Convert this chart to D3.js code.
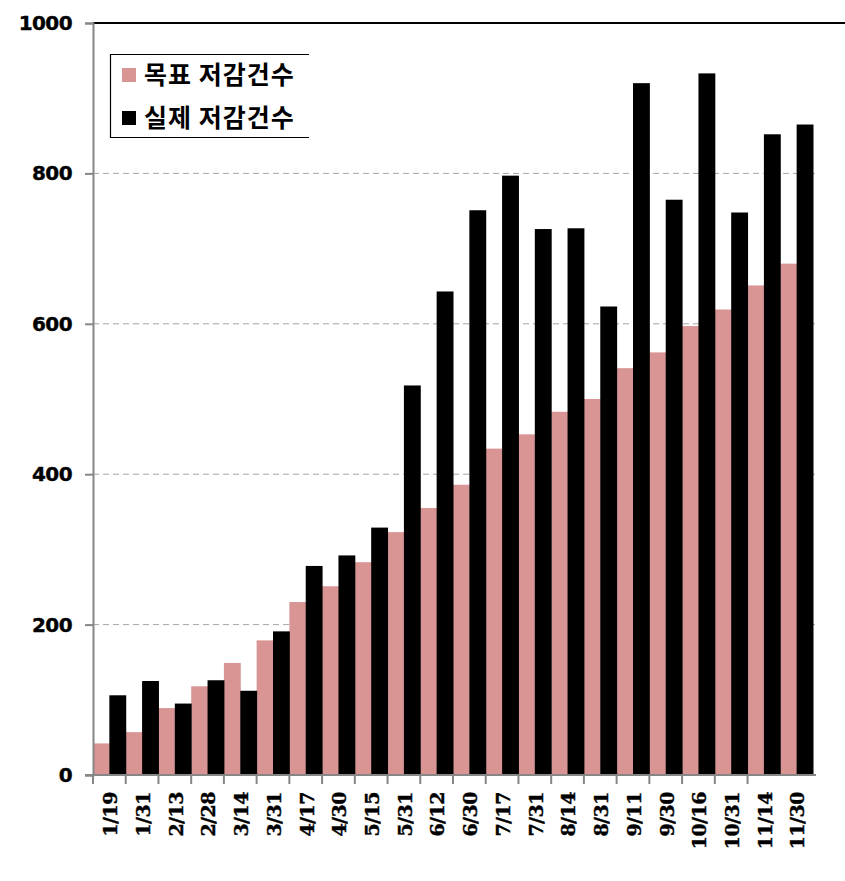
<!DOCTYPE html>
<html>
<head>
<meta charset="utf-8">
<script src="https://cdn.jsdelivr.net/npm/d3@7/dist/d3.min.js"></script>
<style>
  html, body { margin: 0; padding: 0; background: #fff; }
  svg { display: block; }
</style>
</head>
<body>
<script>
const categories = ["1/19","1/31","2/13","2/28","3/14","3/31","4/17","4/30","5/15","5/31","6/12","6/30","7/17","7/31","8/14","8/31","9/11","9/30","10/16","10/31","11/14","11/30"];
const targetValues = [42, 57, 89, 118, 149, 179, 230, 251, 283, 323, 355, 386, 434, 453, 483, 500, 541, 562, 597, 619, 651, 680];
const actualValues = [106, 125, 95, 126, 112, 191, 278, 292, 329, 518, 643, 751, 797, 726, 727, 623, 920, 765, 933, 748, 852, 865];
const seriesNames = ["목표 저감건수", "실제 저감건수"];
const seriesColors = ["#D99594", "#000000"];
const yTicks = [0, 200, 400, 600, 800, 1000];

const W = 845, H = 881;
const mLeft = 93, mRight = 813, mTop = 23, mBottom = 775;

const svg = d3.select("body").append("svg").attr("width", W).attr("height", H);

const x = d3.scaleBand().domain(categories).range([mLeft, mRight]).padding(0);
const y = d3.scaleLinear().domain([0, 1000]).range([mBottom, mTop]);

// gridlines
svg.append("g").selectAll("line").data(yTicks.filter(d => d > 0 && d < 1000)).join("line")
  .attr("x1", mLeft).attr("x2", 815)
  .attr("y1", d => y(d)).attr("y2", d => y(d))
  .attr("stroke", "#A6A6A6").attr("stroke-width", 1).attr("stroke-dasharray", "6,4");

// bars
const half = x.bandwidth() / 2;
svg.append("g").selectAll("rect").data(categories).join("rect")
  .attr("x", d => x(d))
  .attr("width", half + 0.5)
  .attr("y", (d, i) => y(targetValues[i]))
  .attr("height", (d, i) => y(0) - y(targetValues[i]))
  .attr("fill", seriesColors[0]);
svg.append("g").selectAll("rect").data(categories).join("rect")
  .attr("x", d => x(d) + half)
  .attr("width", half + 0.5)
  .attr("y", (d, i) => y(actualValues[i]))
  .attr("height", (d, i) => y(0) - y(actualValues[i]))
  .attr("fill", seriesColors[1]);

// top border line
svg.append("line").attr("x1", mLeft).attr("x2", W).attr("y1", y(1000)).attr("y2", y(1000))
  .attr("stroke", "#000").attr("stroke-width", 2);

// y axis
const yAxis = d3.axisLeft(y).tickValues(yTicks).tickSize(8).tickFormat(d3.format("d"));
const yg = svg.append("g").attr("transform", `translate(${mLeft},0)`).call(yAxis);
yg.select(".domain").attr("stroke", "#868686").attr("stroke-width", 2);
yg.selectAll(".tick line").attr("stroke", "#868686").attr("stroke-width", 2);
yg.selectAll(".tick text")
  .attr("x", -21)
  .attr("font-family", "'DejaVu Sans', sans-serif")
  .attr("font-weight", "bold")
  .attr("font-size", 20)
  .attr("letter-spacing", -0.6)
  .attr("stroke", "#000").attr("stroke-width", 0.4)
  .attr("fill", "#000");

// x axis baseline
svg.append("line").attr("x1", mLeft - 8).attr("x2", 816).attr("y1", mBottom).attr("y2", mBottom)
  .attr("stroke", "#868686").attr("stroke-width", 2);
// x ticks at category boundaries
svg.append("g").selectAll("line").data(categories.slice(0, 21)).join("line")
  .attr("x1", d => x(d)).attr("x2", d => x(d))
  .attr("y1", mBottom).attr("y2", mBottom + 9)
  .attr("stroke", "#868686").attr("stroke-width", 2);
// x labels
svg.append("g").selectAll("text").data(categories).join("text")
  .attr("transform", d => `translate(${x(d) + x.bandwidth() / 2 + 1},792) rotate(-90)`)
  .attr("text-anchor", "end")
  .attr("dy", "0.36em")
  .attr("font-family", "'DejaVu Serif', serif")
  .attr("font-weight", "bold")
  .attr("font-size", 19)
  .attr("letter-spacing", -0.5)
  .attr("stroke", "#000").attr("stroke-width", 0.4)
  .attr("fill", "#000")
  .text(d => d);

// legend
const lg = svg.append("g");
lg.append("rect").attr("x", 110.5).attr("y", 54.5).attr("width", 198).attr("height", 83).attr("fill", "#fff");
lg.append("path").attr("d", "M309,54.5 H110.5 V137.5 H309")
  .attr("fill", "none").attr("stroke", "#000").attr("stroke-width", 1.2);
const rowsY = [75, 118];
seriesNames.forEach((name, i) => {
  lg.append("rect").attr("x", 122).attr("y", rowsY[i] - 7).attr("width", 14).attr("height", 14)
    .attr("fill", seriesColors[i]);
  lg.append("text").attr("x", 144).attr("y", rowsY[i]).attr("dy", "0.35em")
    .attr("font-family", "'Noto Sans CJK KR', sans-serif")
    .attr("font-weight", "bold")
    .attr("font-size", 25)
    .attr("letter-spacing", 1)
    .attr("fill", "#000")
    .text(name);
});
</script>
</body>
</html>
